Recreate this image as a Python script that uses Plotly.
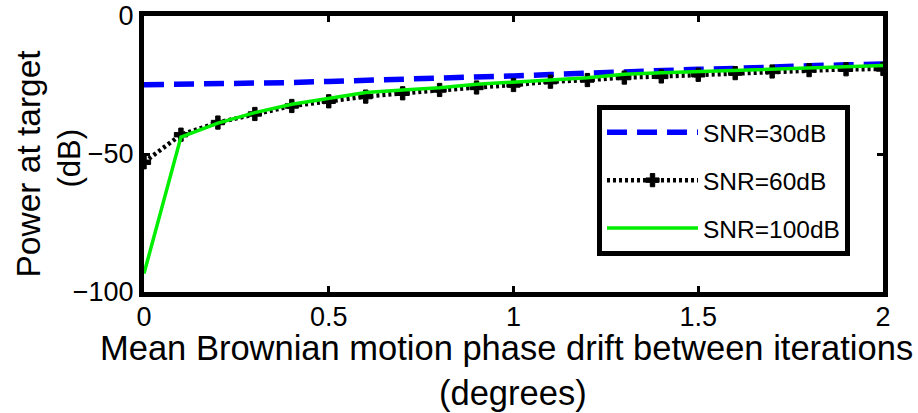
import plotly.graph_objects as go

drift = [0.0, 0.1, 0.2, 0.3, 0.4, 0.5, 0.6, 0.7, 0.8, 0.9, 1.0,
         1.1, 1.2, 1.3, 1.4, 1.5, 1.6, 1.7, 1.8, 1.9, 2.0]

snr30 = [-24.9, -24.8, -24.6, -24.4, -24.1, -23.7, -23.4, -23.0, -22.6, -22.2, -21.7,
         -21.2, -20.6, -20.2, -19.8, -19.3, -19.0, -18.4, -18.0, -17.7, -17.4]
snr60 = [-53.0, -43.0, -38.6, -35.5, -32.6, -30.9, -29.2, -28.0, -26.8, -25.9, -25.0,
         -23.8, -23.2, -22.3, -21.9, -21.3, -20.7, -20.1, -19.6, -19.3, -19.2]
snr100 = [-93.3, -43.9, -38.8, -35.0, -32.0, -29.9, -27.7, -26.8, -26.0, -24.7, -24.1,
          -23.2, -22.4, -21.1, -20.6, -20.1, -19.6, -19.3, -18.9, -18.4, -17.9]

series_names = ["SNR=30dB", "SNR=60dB", "SNR=100dB"]
x_ticks = [0, 0.5, 1, 1.5, 2]
x_tick_text = ["0", "0.5", "1", "1.5", "2"]
y_ticks = [-100, -50, 0]

FONT = "Liberation Sans, Arial, Helvetica, sans-serif"

fig = go.Figure()
fig.add_trace(go.Scatter(
    x=drift, y=snr30, mode="lines", name=series_names[0], legendgroup="a",
    line=dict(color="#0000ff", width=5.5, dash="20px,10px")))
fig.add_trace(go.Scatter(
    x=drift, y=snr60, mode="lines+markers", name=series_names[1], legendgroup="b",
    line=dict(color="black", width=4.5, dash="3px,3px"),
    marker=dict(symbol="cross", size=11, color="black", line=dict(color="black", width=1))))
fig.add_trace(go.Scatter(
    x=drift, y=snr100, mode="lines", name=series_names[2], legendgroup="c",
    line=dict(color="#00ee00", width=3.5)))

axis_common = dict(
    showline=True, linewidth=5, linecolor="black", mirror="allticks",
    ticks="inside", ticklen=6, tickwidth=3, tickcolor="black",
    showgrid=False, zeroline=False, automargin=False,
    tickfont=dict(family=FONT, size=27, color="black"),
)

fig.update_xaxes(range=[0, 2], tickvals=x_ticks, ticktext=x_tick_text,
                 ticklabelstandoff=-3, **axis_common)
fig.update_yaxes(range=[-100, 0], tickvals=y_ticks, **axis_common)

fig.update_layout(
    width=918, height=413,
    margin=dict(l=144, r=35, t=16, b=121, pad=0, autoexpand=False),
    paper_bgcolor="white", plot_bgcolor="white",
    font=dict(family=FONT, color="black"),
    showlegend=True,
    legend=dict(
        x=0.613, y=0.678, xanchor="left", yanchor="top",
        bgcolor="white", bordercolor="black", borderwidth=5,
        font=dict(family=FONT, size=24.5, color="black"),
        itemwidth=91, tracegroupgap=13, traceorder="grouped",
    ),
    annotations=[
        dict(text="Mean Brownian motion phase drift between iterations",
             xref="paper", yref="paper", x=0.5, y=0, xanchor="center", yanchor="middle",
             xshift=-7, yshift=-56, showarrow=False,
             font=dict(family=FONT, size=34.5, color="black")),
        dict(text="(degrees)",
             xref="paper", yref="paper", x=0.5, y=0, xanchor="center", yanchor="middle",
             xshift=-1, yshift=-101, showarrow=False,
             font=dict(family=FONT, size=34.5, color="black")),
        dict(text="Power at target", textangle=-90,
             xref="paper", yref="paper", x=0, y=0.5, xanchor="center", yanchor="middle",
             xshift=-116, yshift=-9.5, showarrow=False,
             font=dict(family=FONT, size=33.5, color="black")),
        dict(text="(dB)", textangle=-90,
             xref="paper", yref="paper", x=0, y=0.5, xanchor="center", yanchor="middle",
             xshift=-75, yshift=-4.5, showarrow=False,
             font=dict(family=FONT, size=31, color="black")),
    ],
)

fig.write_html(
    "out.html",
    config={"displayModeBar": False},
    post_script="document.body.style.margin='0';document.body.style.overflow='hidden';",
)
